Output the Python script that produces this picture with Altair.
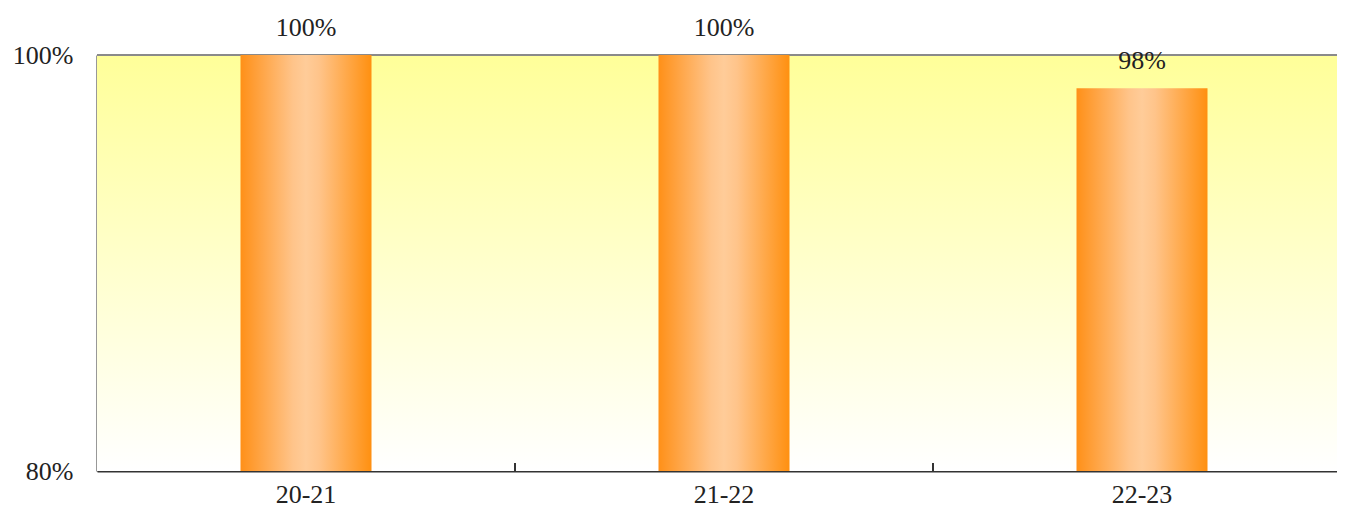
import altair as alt
import pandas as pd

categories = ["20-21", "21-22", "22-23"]
values = [100, 100, 98.4]
y_ticks = [80, 100]

W, H = 1254, 416
FONT = "Liberation Serif"

df = pd.DataFrame({"period": categories, "value": values})

x_enc = alt.X("period:N", sort=categories,
              scale=alt.Scale(paddingInner=0, paddingOuter=0),
              axis=alt.Axis(title=None, labelAngle=0, labelPadding=10,
                            labelFont=FONT, labelFontSize=26, labelColor="#222",
                            domainColor="#333", domainWidth=2, ticks=False))
y_scale = alt.Scale(domain=[80, 100])

bg = alt.Chart(alt.Data(values=[{"a": 1}])).mark_rect(
    color=alt.LinearGradient(
        gradient="linear", x1=0, x2=0, y1=0, y2=1,
        stops=[alt.GradientStop(color="#FFFF99", offset=0),
               alt.GradientStop(color="#FFFFFF", offset=1)])
).encode(x=alt.value(0), x2=alt.value(W), y=alt.value(0), y2=alt.value(H))

top_rule = alt.Chart(alt.Data(values=[{"a": 1}])).mark_rule(
    color="#8a8a8a", strokeWidth=2
).encode(x=alt.value(0), x2=alt.value(W), y=alt.value(0))

bars = alt.Chart(df).mark_bar(
    size=131,
    color=alt.LinearGradient(
        gradient="linear", x1=0, x2=1, y1=0, y2=0,
        stops=[alt.GradientStop(color="#FF9018", offset=0),
               alt.GradientStop(color="#FFC48A", offset=0.4),
               alt.GradientStop(color="#FFCC99", offset=0.5),
               alt.GradientStop(color="#FFC48A", offset=0.6),
               alt.GradientStop(color="#FF9010", offset=1)])
).encode(
    x=x_enc,
    y=alt.Y("value:Q", scale=y_scale,
            axis=alt.Axis(title=None, values=y_ticks, labelExpr="datum.value + '%'",
                          labelFont=FONT, labelFontSize=26, labelColor="#222",
                          labelPadding=24, ticks=False, grid=False,
                          domainColor="#333", domainWidth=2)),
    y2=alt.datum(80),
)

texts = alt.Chart(df).transform_calculate(
    label="format(datum.value, '.0f') + '%'"
).mark_text(font=FONT, fontSize=26, color="#222", baseline="bottom", dy=-14).encode(
    x=alt.X("period:N", sort=categories),
    y=alt.Y("value:Q", scale=y_scale),
    text="label:N",
)

ticks = alt.Chart(df).transform_filter(
    alt.datum.period != categories[0]
).mark_rule(color="#333", strokeWidth=2).encode(
    x=alt.X("period:N", sort=categories, bandPosition=0),
    y=alt.value(H - 8), y2=alt.value(H),
)

chart = alt.layer(bg, top_rule, bars, ticks, texts).properties(
    width=W, height=H,
    autosize=alt.AutoSizeParams(type="none"),
    padding={"left": 89, "top": 47, "right": -14, "bottom": 38},
).configure_view(stroke=None)

chart.save("out.html", embed_options={"renderer": "svg", "actions": False})
